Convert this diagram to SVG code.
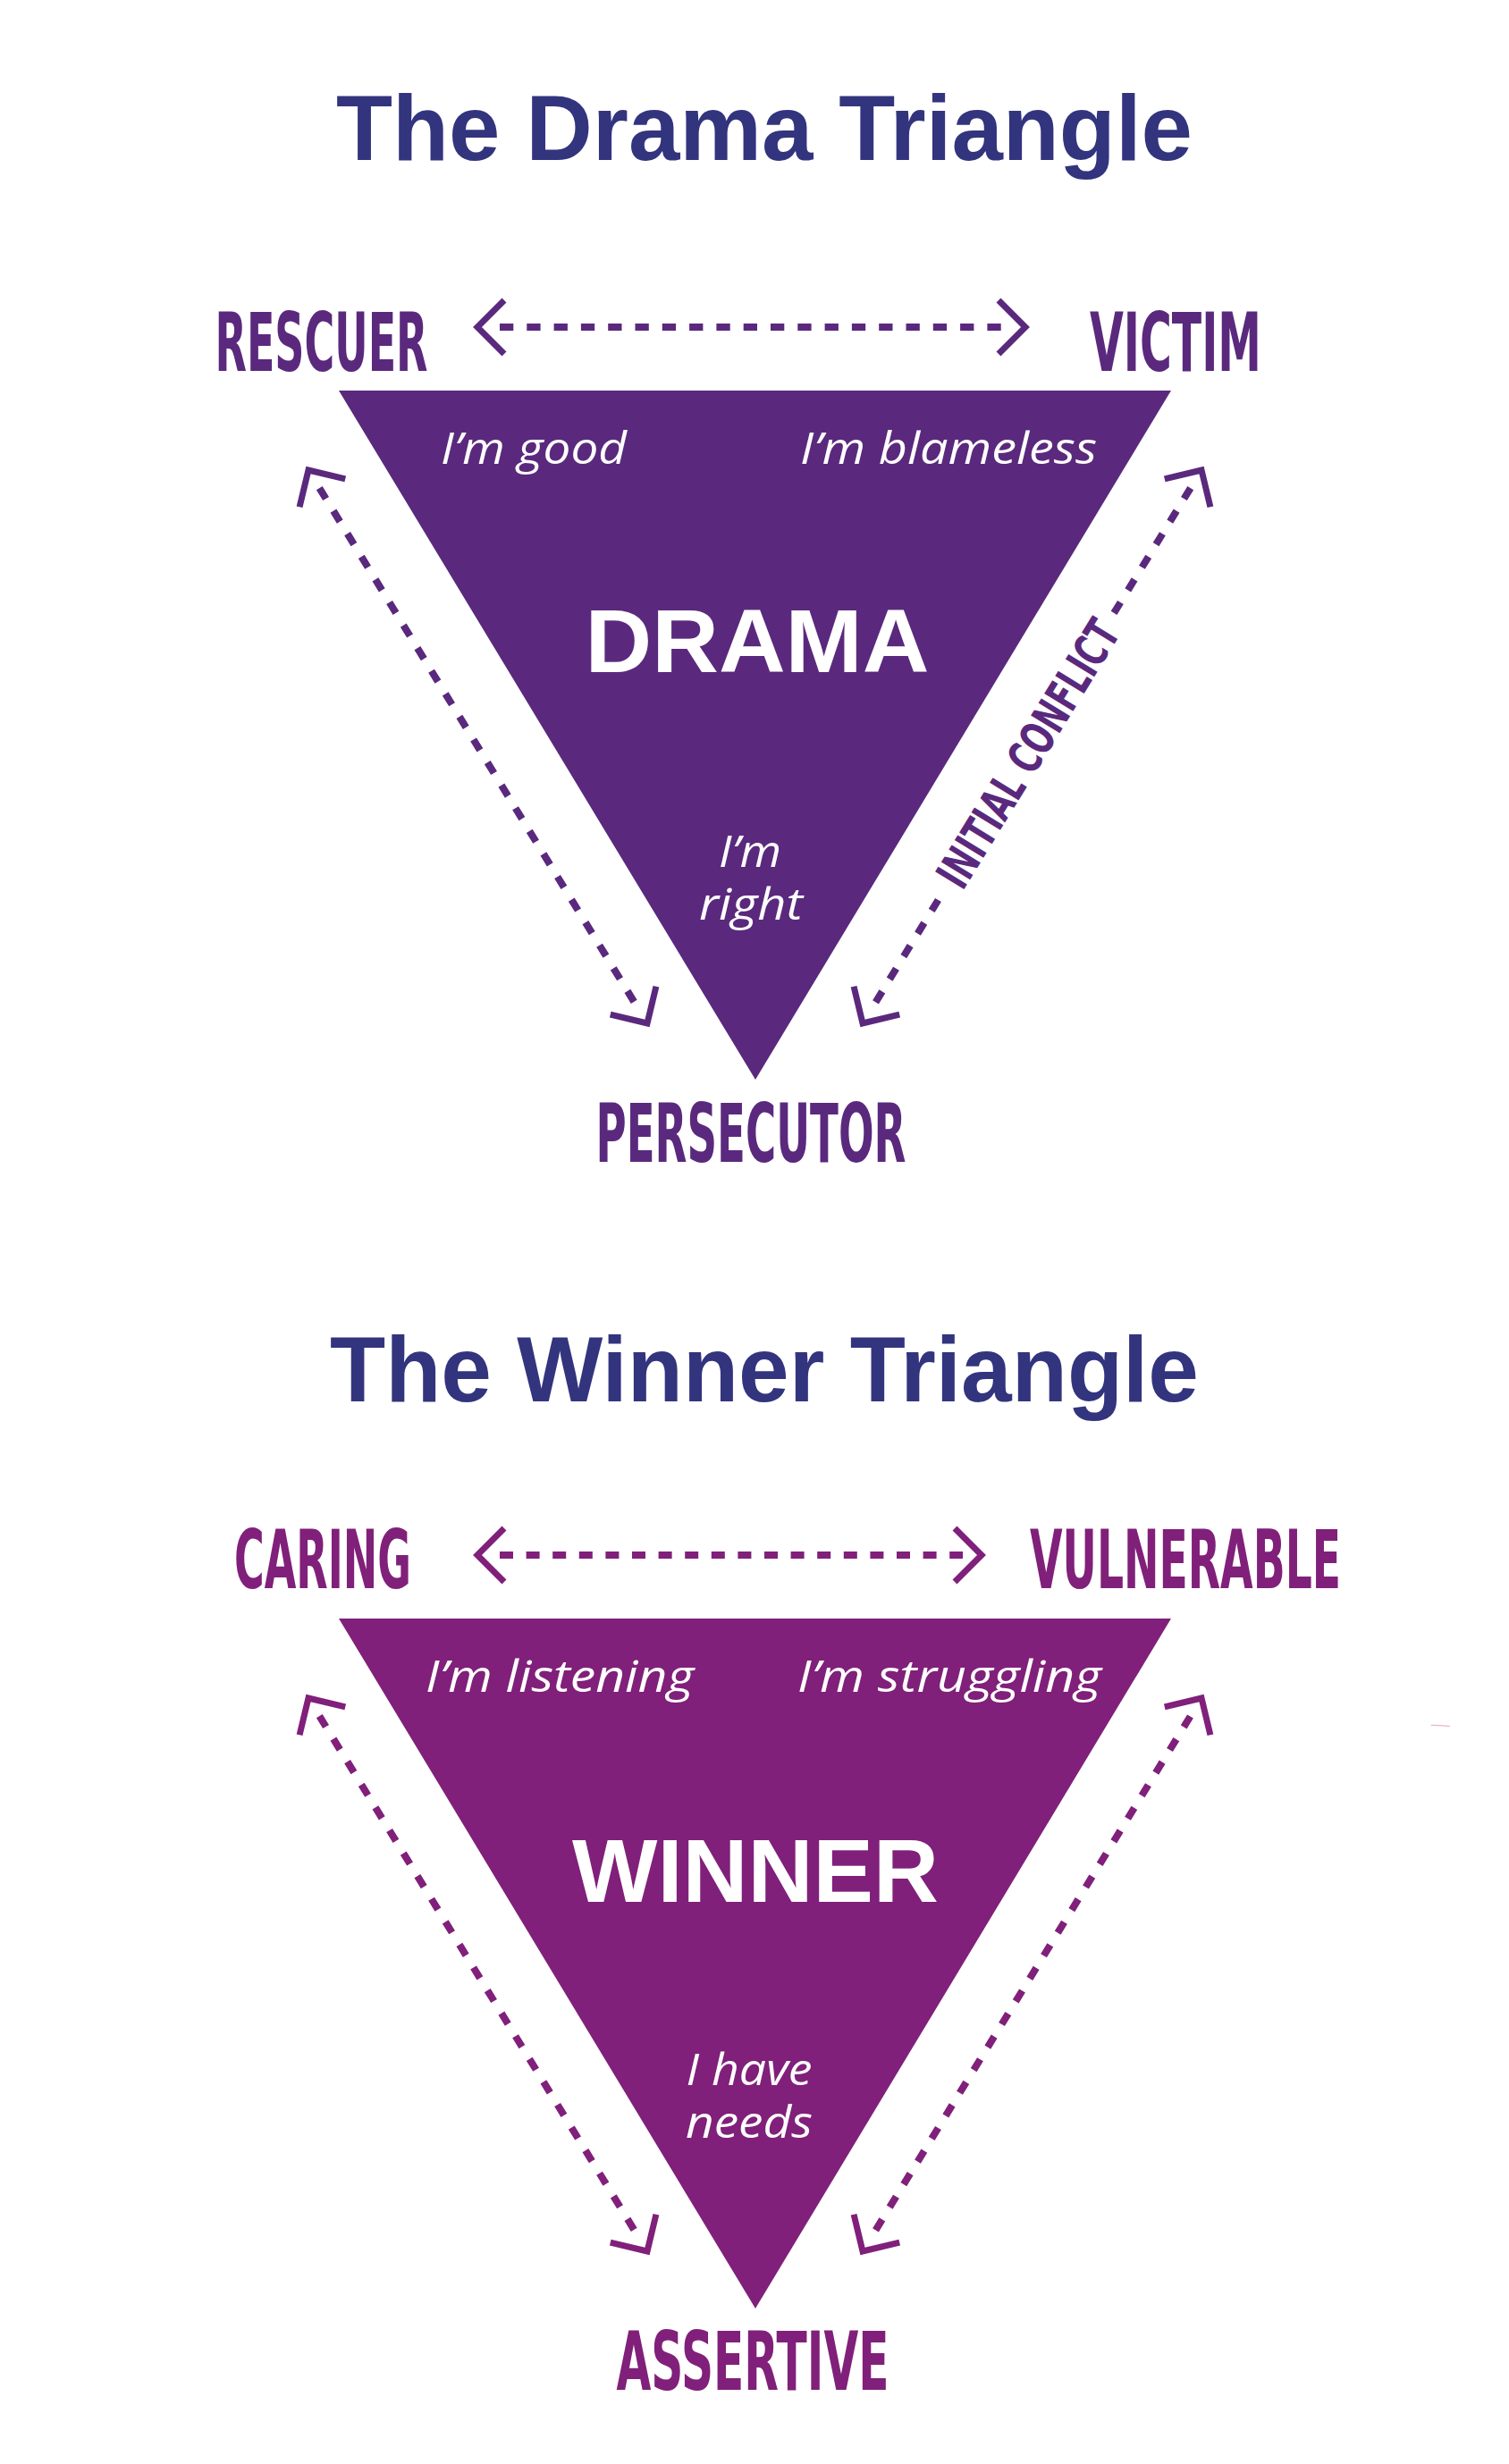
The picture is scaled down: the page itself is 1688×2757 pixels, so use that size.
<svg xmlns="http://www.w3.org/2000/svg" width="1688" height="2757" viewBox="0 0 1688 2757">
<style>
.title{font-family:"Liberation Sans",Arial,sans-serif;font-weight:bold;fill:#33347e;}
.lbl{font-family:"Liberation Sans Narrow","DejaVu Sans Condensed","Liberation Sans",sans-serif;font-weight:bold;font-size:90px;text-anchor:middle;}
.big{font-family:"Liberation Sans",Arial,sans-serif;font-weight:bold;font-size:100px;fill:#ffffff;text-anchor:middle;}
.it{font-family:"Open Sans","Noto Sans","Liberation Sans",sans-serif;font-style:italic;font-size:50px;fill:#ffffff;text-anchor:middle;}
.d{fill:#5a297d;}
.w{fill:#80207a;}
.chev{fill:none;stroke-width:7;stroke-linejoin:miter;stroke-miterlimit:10;}
.dash{fill:none;stroke-width:8;stroke-dasharray:14 16;}
.cd{stroke:#5a297d;}
.cw{stroke:#80207a;}
</style>
<rect x="0" y="0" width="1688" height="2757" fill="#ffffff"/>

<!-- Drama Triangle -->
<g id="drama-title"><text class="title" x="376" y="179" font-size="103" textLength="958" lengthAdjust="spacingAndGlyphs">The Drama Triangle</text></g>
<g id="rescuer"><text class="lbl d" x="359.5" y="415" textLength="238" lengthAdjust="spacingAndGlyphs">RESCUER</text></g>
<g id="victim"><text class="lbl d" x="1315" y="415" textLength="192" lengthAdjust="spacingAndGlyphs">VICTIM</text></g>
<g id="persecutor"><text class="lbl d" x="840" y="1300" textLength="347" lengthAdjust="spacingAndGlyphs">PERSECUTOR</text></g>
<g id="drama-triangle">
<polygon class="d" points="379,437 1310,437 845,1208"/>
<text class="it" x="597" y="519" textLength="208" lengthAdjust="spacingAndGlyphs">I’m good</text>
<text class="it" x="1061" y="519" textLength="332" lengthAdjust="spacingAndGlyphs">I’m blameless</text>
<text class="big" x="847" y="752" textLength="385" lengthAdjust="spacingAndGlyphs">DRAMA</text>
<text class="it" x="839" y="970" textLength="70" lengthAdjust="spacingAndGlyphs">I’m</text>
<text class="it" x="840" y="1029" textLength="116" lengthAdjust="spacingAndGlyphs">right</text>
</g>

<!-- Winner Triangle -->
<g id="winner-title"><text class="title" x="369" y="1568" font-size="103" textLength="972" lengthAdjust="spacingAndGlyphs">The Winner Triangle</text></g>
<g id="caring"><text class="lbl w" x="361" y="1777" textLength="198" lengthAdjust="spacingAndGlyphs">CARING</text></g>
<g id="vulnerable"><text class="lbl w" x="1326" y="1777" textLength="348" lengthAdjust="spacingAndGlyphs">VULNERABLE</text></g>
<g id="assertive"><text class="lbl w" x="842" y="2674" textLength="305" lengthAdjust="spacingAndGlyphs">ASSERTIVE</text></g>
<g id="winner-triangle">
<polygon class="w" points="379,1811 1310,1811 845,2583"/>
<text class="it" x="626" y="1893" textLength="300" lengthAdjust="spacingAndGlyphs">I’m listening</text>
<text class="it" x="1062" y="1893" textLength="340" lengthAdjust="spacingAndGlyphs">I’m struggling</text>
<text class="big" x="845" y="2128" textLength="410" lengthAdjust="spacingAndGlyphs">WINNER</text>
<text class="it" x="838" y="2333" textLength="141" lengthAdjust="spacingAndGlyphs">I have</text>
<text class="it" x="838" y="2392" textLength="142" lengthAdjust="spacingAndGlyphs">needs</text>
</g>

<g id="connectors">
<!-- Drama: rescuer <-> victim -->
<g transform="translate(534 366)">
<path class="chev cd" d="M30,-30 L0,0 L30,30"/>
<path class="chev cd" d="M583,-30 L613,0 L583,30"/>
<path class="dash cd" d="M25,0 H588" style="stroke-dasharray:15.3 15"/>
</g>
<!-- Drama: rescuer <-> persecutor -->
<g transform="translate(345 526) rotate(58.52)">
<path class="chev cd" d="M30,-30 L0,0 L30,30"/>
<path class="chev cd" d="M695.8,-30 L725.8,0 L695.8,30"/>
<path class="dash cd" d="M23.5,0 H698"/>
</g>
<!-- Drama: persecutor <-> victim (initial conflict) -->
<g transform="translate(965 1145) rotate(-58.52)">
<path class="chev cd" d="M30,-30 L0,0 L30,30"/>
<path class="chev cd" d="M695.8,-30 L725.8,0 L695.8,30"/>
<path class="dash cd" d="M27.8,0 H162"/>
<path class="dash cd" d="M538.3,0 H702.3"/>
<text class="lbl d" x="354" y="18.5" font-size="52" style="font-size:52px" textLength="340" lengthAdjust="spacingAndGlyphs">INITIAL CONFLICT</text>
</g>

<!-- Winner: caring <-> vulnerable -->
<g transform="translate(534 1740)">
<path class="chev cw" d="M30,-30 L0,0 L30,30"/>
<path class="chev cw" d="M534,-30 L564,0 L534,30"/>
<path class="dash cw" d="M25,0 H543" style="stroke-dasharray:15 14.6"/>
</g>
<!-- Winner: caring <-> assertive -->
<g transform="translate(345 1900) rotate(58.52)">
<path class="chev cw" d="M30,-30 L0,0 L30,30"/>
<path class="chev cw" d="M695.8,-30 L725.8,0 L695.8,30"/>
<path class="dash cw" d="M23.5,0 H698"/>
</g>
<!-- Winner: assertive <-> vulnerable -->
<g transform="translate(965 2519) rotate(-58.52)">
<path class="chev cw" d="M30,-30 L0,0 L30,30"/>
<path class="chev cw" d="M695.8,-30 L725.8,0 L695.8,30"/>
<path class="dash cw" d="M27.8,0 H702.3"/>
</g>
</g>

<path d="M1600.7,1930.3 L1611,1930.6 L1622,1931.7" fill="none" stroke="#eab6c2" stroke-width="1.2"/>
</svg>
